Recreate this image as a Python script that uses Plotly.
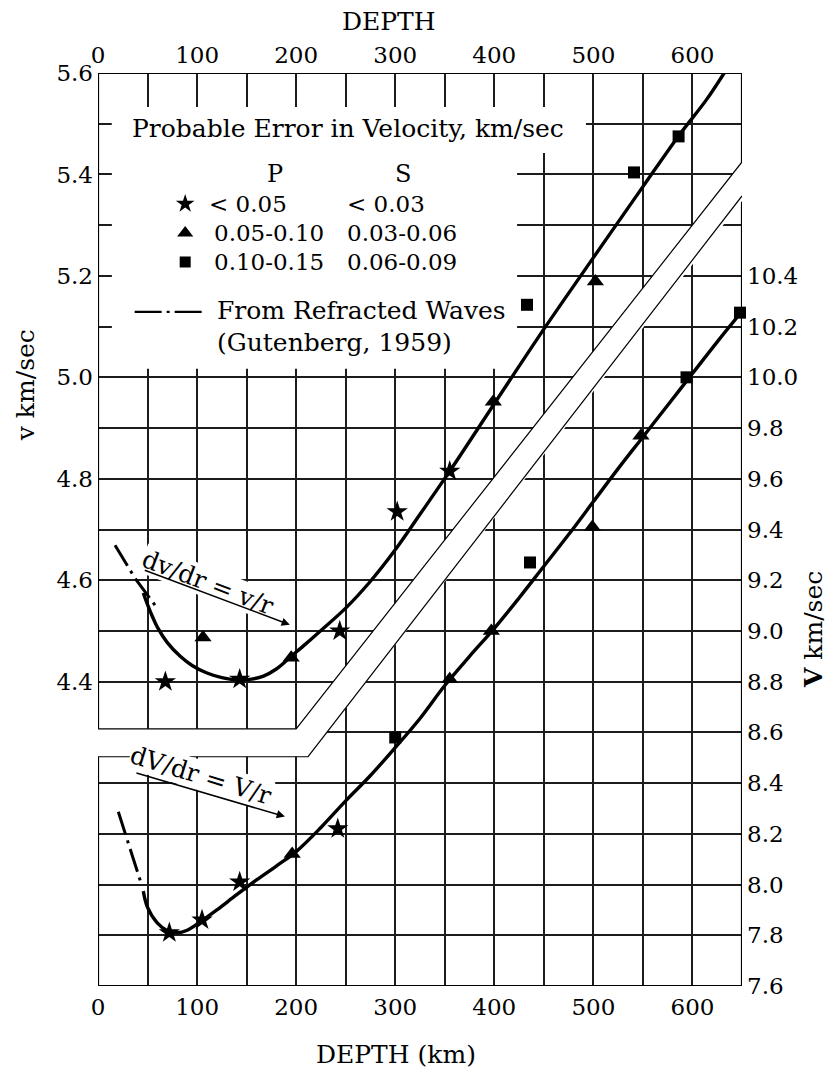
import plotly.graph_objects as go

# ---------------- data ----------------
# axis labels
depth_ticks = [0, 100, 200, 300, 400, 500, 600]
v_ticks = [4.4, 4.6, 4.8, 5.0, 5.2, 5.4, 5.6]
V_ticks = [7.6, 7.8, 8.0, 8.2, 8.4, 8.6, 8.8, 9.0, 9.2, 9.4, 9.6, 9.8, 10.0, 10.2, 10.4]

# shear velocity v (upper set)
s_depth = [68, 106, 143, 195, 244, 302, 355, 399, 433, 502, 541, 586]
s_v = [4.40, 4.487, 4.405, 4.447, 4.50, 4.735, 4.815, 4.952, 5.143, 5.189, 5.404, 5.475]
s_err = ["low", "mid", "low", "mid", "low", "low", "low", "mid", "high", "mid", "high", "high"]

# compressional velocity V (lower set)
p_depth = [72, 105, 143, 196, 242, 300, 355, 397, 436, 499, 548, 594, 648]
p_V = [7.81, 7.86, 8.01, 8.12, 8.22, 8.58, 8.81, 9.00, 9.27, 9.41, 9.77, 10.00, 10.255]
p_err = ["low", "low", "low", "mid", "low", "high", "mid", "mid", "high", "mid", "mid", "high", "high"]

# smoothed velocity-depth curves
s_curve_depth = [45.7, 50, 55, 60, 70, 83, 95, 110, 125, 143, 155, 167, 180, 195, 210, 225,
                 250, 275, 300, 325, 355, 400, 450, 500, 550, 586, 614, 632]
s_curve_v = [4.575, 4.552, 4.528, 4.507, 4.477, 4.450, 4.432, 4.417, 4.408, 4.403, 4.405, 4.411,
             4.425, 4.450, 4.475, 4.501, 4.545, 4.598, 4.660, 4.730, 4.815, 4.948, 5.095,
             5.236, 5.376, 5.476, 5.547, 5.600]
p_curve_depth = [45.7, 50, 60, 70, 80, 90, 105, 120, 140, 160, 180, 200, 225, 250, 275, 300,
                 325, 350, 375, 400, 425, 450, 475, 500, 525, 550, 575, 600, 625, 650]
p_curve_V = [7.974, 7.910, 7.848, 7.818, 7.810, 7.820, 7.858, 7.900, 7.960, 8.018, 8.073, 8.130,
             8.225, 8.330, 8.430, 8.540, 8.655, 8.785, 8.900, 9.010, 9.130, 9.255, 9.380,
             9.510, 9.640, 9.765, 9.890, 10.015, 10.140, 10.260]

# refracted-wave segments (Gutenberg, 1959)
s_refr_depth = [17.2, 37.3, 57.5]
s_refr_v = [4.669, 4.604, 4.551]
p_refr_depth = [20.5, 32.3, 44.1]
p_refr_V = [8.287, 8.143, 7.998]

# ---------------- styling ----------------
FONT = "DejaVu Serif"
INK = "black"
sym = {"low": "star", "mid": "triangle-up", "high": "square"}
size = {"low": 16, "mid": 15, "high": 12}

fig = go.Figure()

# smooth curves
curve_line = dict(color=INK, width=3.4, shape="spline", smoothing=1.0)
fig.add_trace(go.Scatter(x=s_curve_depth, y=s_curve_v, mode="lines", line=curve_line,
                         hoverinfo="skip", showlegend=False))
fig.add_trace(go.Scatter(x=p_curve_depth, y=p_curve_V, mode="lines", yaxis="y2", line=curve_line,
                         hoverinfo="skip", showlegend=False))

# refracted-wave dash-dot segments
dashdot = "24px,6px,3px,6px"
fig.add_trace(go.Scatter(x=s_refr_depth, y=s_refr_v, mode="lines",
                         line=dict(color=INK, width=3, dash=dashdot),
                         hoverinfo="skip", showlegend=False))
fig.add_trace(go.Scatter(x=p_refr_depth, y=p_refr_V, mode="lines", yaxis="y2",
                         line=dict(color=INK, width=3, dash=dashdot),
                         hoverinfo="skip", showlegend=False))

# observations
fig.add_trace(go.Scatter(x=s_depth, y=s_v, mode="markers",
                         marker=dict(symbol=[sym[e] for e in s_err], size=[size[e] for e in s_err],
                                     color=INK, opacity=1, line=dict(width=0)),
                         cliponaxis=False, showlegend=False))
fig.add_trace(go.Scatter(x=p_depth, y=p_V, mode="markers", yaxis="y2",
                         marker=dict(symbol=[sym[e] for e in p_err], size=[size[e] for e in p_err],
                                     color=INK, opacity=1, line=dict(width=0)),
                         cliponaxis=False, showlegend=False))

# key symbols
key_v = [5.342, 5.2845, 5.2274]
fig.add_trace(go.Scatter(x=[88, 88, 88], y=key_v, mode="markers",
                         marker=dict(symbol=["star", "triangle-up", "square"], size=[14, 14, 11],
                                     color=INK, opacity=1, line=dict(width=0)),
                         cliponaxis=False, showlegend=False, hoverinfo="skip"))
fig.add_trace(go.Scatter(x=[37, 108], y=[5.129, 5.129], mode="lines",
                         line=dict(color=INK, width=2.4, dash="27px,5px,3px,5px"),
                         cliponaxis=False, showlegend=False, hoverinfo="skip"))

# top depth axis carrier
fig.add_trace(go.Scatter(x=[0, 650], y=[4.0, 4.0], xaxis="x2", mode="markers",
                         marker=dict(opacity=0), showlegend=False, hoverinfo="skip"))

# ---------------- frame, break band, key panel ----------------
shapes = []
frame = dict(type="line", xref="x", yref="y", line=dict(color=INK, width=2.2), layer="between")
shapes.append({**frame, "x0": 0, "x1": 650, "y0": 5.6, "y1": 5.6})
shapes.append({**frame, "x0": 0, "x1": 650, "y0": 3.8, "y1": 3.8})
shapes.append({**frame, "x0": 0, "x1": 0, "y0": 3.8, "y1": 5.6})
shapes.append({**frame, "x0": 650, "x1": 650, "y0": 3.8, "y1": 5.6})

# white band separating the two velocity scales
shapes.append(dict(type="path", xref="x", yref="y", layer="between",
                   path="M -2,4.307 L 200,4.307 L 652,5.4296 L 652,5.3526 L 212,4.252 L -2,4.252 Z",
                   fillcolor="white", line=dict(width=0)))
shapes.append(dict(type="path", xref="x", yref="y", layer="between",
                   path="M 0,4.307 L 200,4.307 L 650,5.4246", line=dict(color=INK, width=1.2)))
shapes.append(dict(type="path", xref="x", yref="y", layer="between",
                   path="M 0,4.252 L 212,4.252 L 650,5.3576", line=dict(color=INK, width=1.2)))

# clear panel behind the key
shapes.append(dict(type="rect", xref="x", yref="y", layer="between",
                   x0=14, x1=492.5, y0=5.4424, y1=5.533, fillcolor="white", line=dict(width=0)))
shapes.append(dict(type="rect", xref="x", yref="y", layer="between",
                   x0=14, x1=423, y0=5.0167, y1=5.533, fillcolor="white", line=dict(width=0)))

# ---------------- text ----------------
ann = []
def txt(x, y, s, xanchor="center", size=24, **kw):
    ann.append(dict(x=x, y=y, xref="x", yref="y", text=s, showarrow=False, xanchor=xanchor,
                    yanchor="middle", font=dict(family=FONT, size=size, color=INK), **kw))

txt(252, 5.490, "Probable Error in Velocity, km/sec", size=25)
txt(178.6, 5.401, "P", size=24)
txt(307.8, 5.401, "S", size=24)
txt(110, 5.342, "< 0.05", xanchor="left", size=23)
txt(249, 5.342, "< 0.03", xanchor="left", size=23)
txt(115, 5.2845, "0.05-0.10", xanchor="left", size=23)
txt(249, 5.2845, "0.03-0.06", xanchor="left", size=23)
txt(115, 5.2274, "0.10-0.15", xanchor="left", size=23)
txt(249, 5.2274, "0.06-0.09", xanchor="left", size=23)
txt(118, 5.131, "From Refracted Waves", xanchor="left", size=25)
txt(118, 5.068, "(Gutenberg, 1959)", xanchor="left", size=25)

# gradient labels with arrows
txt(111, 4.5965, "dv/dr = v/r", textangle=21, bgcolor="white", borderpad=0, size=25)
txt(104, 4.216, "dV/dr = V/r", textangle=17, bgcolor="white", borderpad=0, size=25)
ann.append(dict(x=193.6, y=4.5123, ax=45.7, ay=4.6207, xref="x", yref="y", axref="x", ayref="y",
                text="", showarrow=True, arrowhead=2, arrowsize=1.1, arrowwidth=1.5, arrowcolor=INK))
ann.append(dict(x=188.7, y=4.134, ax=37.3, ay=4.2207, xref="x", yref="y", axref="x", ayref="y",
                text="", showarrow=True, arrowhead=2, arrowsize=1.1, arrowwidth=1.5, arrowcolor=INK))

# axis titles
def ptxt(x, y, s, angle=0, size=25):
    ann.append(dict(x=x, y=y, xref="paper", yref="paper", text=s, showarrow=False,
                    xanchor="center", yanchor="middle", textangle=angle,
                    font=dict(family=FONT, size=size, color=INK)))

ptxt(0.4519, 1.0559, "DEPTH")
ptxt(0.4627, -0.0745, "DEPTH (km)")
ptxt(-0.1134, 0.658, "v km/sec", angle=-90)
ptxt(1.112, 0.390, "<b>V</b> km/sec", angle=-90)

# ---------------- axes ----------------
grid = dict(showgrid=True, gridcolor="#1c1c1c", gridwidth=1.5)
v_grid = [round(3.8 + 0.1 * i, 1) for i in range(19)]
tickfont = dict(family=FONT, size=23, color=INK)

fig.update_layout(
    width=827, height=1068,
    margin=dict(l=98, r=85, t=73, b=82, pad=0),
    paper_bgcolor="white", plot_bgcolor="white",
    shapes=shapes, annotations=ann,
    xaxis=dict(range=[0, 650], tickmode="array",
               tickvals=[d * 50 for d in range(14)],
               ticktext=[str(d * 50) if d * 50 in depth_ticks else "" for d in range(14)],
               ticks="", showline=False, zeroline=False, tickfont=tickfont,
               ticklabelstandoff=5, **grid),
    xaxis2=dict(range=[0, 650], overlaying="x", side="top", anchor="y", tickmode="array",
                tickvals=depth_ticks, ticktext=[str(d) for d in depth_ticks],
                ticks="", showgrid=False, showline=False, zeroline=False, tickfont=tickfont,
                ticklabelstandoff=4),
    yaxis=dict(range=[3.8, 5.6], tickmode="array", tickvals=v_grid,
               ticktext=[f"{t:.1f}" if t in v_ticks else "" for t in v_grid],
               ticks="", showline=False, zeroline=False, tickfont=tickfont,
               ticklabelstandoff=4, **grid),
    yaxis2=dict(range=[7.6, 11.2], overlaying="y", side="right", anchor="x", tickmode="array",
                tickvals=V_ticks, ticktext=[f"{t:.1f}" for t in V_ticks],
                ticks="", showgrid=False, showline=False, zeroline=False, tickfont=tickfont,
                ticklabelstandoff=4),
    showlegend=False,
)

fig.write_html("out.html")
